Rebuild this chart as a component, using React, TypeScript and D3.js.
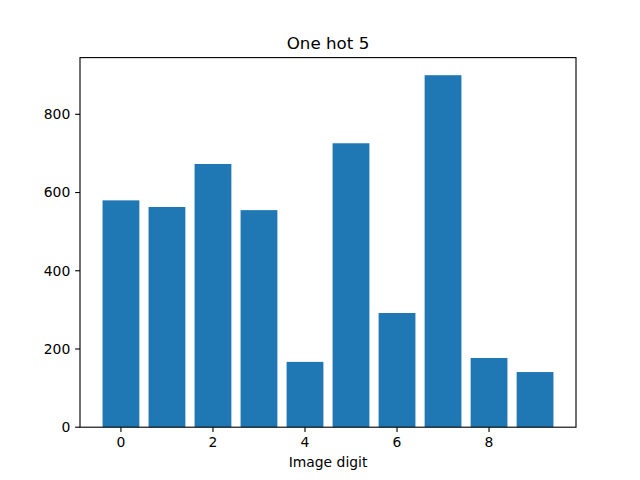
import React from "react";
import * as d3 from "d3";

const categories = [0, 1, 2, 3, 4, 5, 6, 7, 8, 9];
const counts = [580, 563, 673, 555, 167, 726, 292, 900, 177, 141];
const xTicks = [0, 2, 4, 6, 8];
const yTicks = [0, 200, 400, 600, 800];
const title = "One hot 5";
const xLabel = "Image digit";

export default function App() {
  const W = 640, H = 480;
  const L = 80, R = 576, T = 57.6, B = 427.2;
  const barW = 0.8;
  const xMin = -barW / 2, xMax = categories.length - 1 + barW / 2;
  const pad = (xMax - xMin) * 0.05;
  const x = d3.scaleLinear().domain([xMin - pad, xMax + pad]).range([L, R]);
  const yMax = (d3.max(counts) as number) * 1.05;
  const y = d3.scaleLinear().domain([0, yMax]).range([B, T]);
  const font = "DejaVu Sans, sans-serif";
  const tick = 4.86;
  return (
    <svg width={W} height={H} style={{ position: "absolute", left: 0, top: 0 }} fontFamily={font}>
      <rect x={0} y={0} width={W} height={H} fill="#fff" />
      {categories.map((c, i) => (
        <rect
          key={c}
          x={x(c - barW / 2)}
          y={y(counts[i])}
          width={x(c + barW / 2) - x(c - barW / 2)}
          height={B - y(counts[i])}
          fill="#1f77b4"
        />
      ))}
      <rect x={L} y={T} width={R - L} height={B - T} fill="none" stroke="#000" strokeWidth={1.11} />
      {xTicks.map((t) => (
        <g key={t}>
          <line x1={x(t)} x2={x(t)} y1={B} y2={B + tick} stroke="#000" strokeWidth={1.11} />
          <text x={x(t)} y={B + tick + 4.86 + 10.5} fontSize={13.9} textAnchor="middle" fill="#000">{t}</text>
        </g>
      ))}
      {yTicks.map((t) => (
        <g key={t}>
          <line x1={L - tick} x2={L} y1={y(t)} y2={y(t)} stroke="#000" strokeWidth={1.11} />
          <text x={L - tick - 4.86} y={y(t)} dy="0.35em" fontSize={13.9} textAnchor="end" fill="#000">{t}</text>
        </g>
      ))}
      <text x={(L + R) / 2} y={T - 8.33} fontSize={16.7} textAnchor="middle" fill="#000">{title}</text>
      <text x={(L + R) / 2} y={467} fontSize={13.9} textAnchor="middle" fill="#000">{xLabel}</text>
    </svg>
  );
}
